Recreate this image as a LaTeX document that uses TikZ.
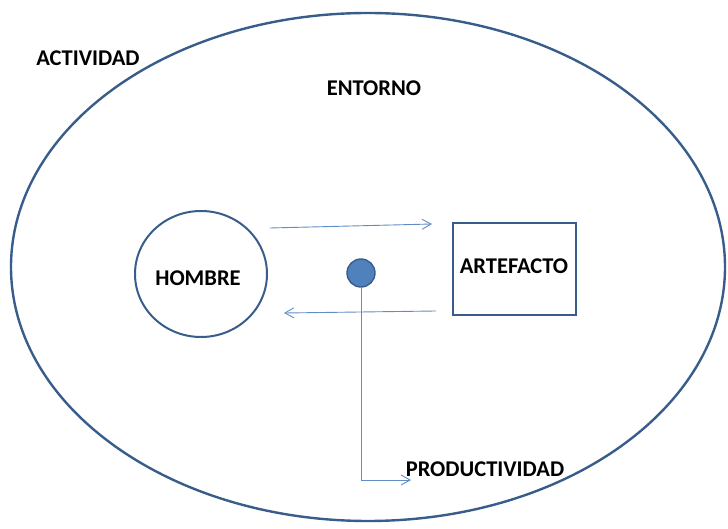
\documentclass[tikz,border=0pt]{standalone}
\usepackage{fontspec}
\setmainfont{Carlito}
\usetikzlibrary{shapes.geometric,arrows.meta}
\definecolor{rimblue}{RGB}{56,93,138}
\definecolor{flowblue}{RGB}{98,140,196}
\definecolor{dotblue}{RGB}{79,129,189}

\begin{document}
\begin{tikzpicture}[x=1pt,y=-1pt,>={Straight Barb[length=9pt,width=10pt]}]
\tikzset{
  rim/.style={draw=rimblue,line width=2.2pt,inner sep=0pt},
  lab/.style={font=\fontsize{22.5}{26}\selectfont\bfseries,align=center,inner sep=0pt},
  arr/.style={->,draw=flowblue,line width=.9pt}
}
\useasboundingbox (0,0) rectangle (728,529);
\node[rim,ellipse,line width=2.4pt,minimum width=714pt,minimum height=508pt] (act) at (368,267) {};
\node[rim,ellipse,line width=2pt,minimum width=132pt,minimum height=126pt] (hombre) at (201,274) {};
\node[rim,rectangle,line width=2pt,minimum width=123pt,minimum height=92pt] (arte) at (514.5,269) {};
\node[circle,draw=rimblue,fill=dotblue,line width=1.4pt,minimum size=28pt,inner sep=0pt] (dot) at (361,273) {};
\node[lab] (actlab) at (88,58) {ACTIVIDAD};
\node[lab] (entlab) at (374,88) {ENTORNO};
\node[lab] (homlab) at (198,278) {HOMBRE};
\node[lab] (artlab) at (514,266) {ARTEFACTO};
\node[lab] (prodlab) at (485,469) {PRODUCTIVIDAD};
% ends of the two flows between man and artefact
\coordinate (goA) at (270,228);
\coordinate (goB) at (432,224);
\coordinate (backA) at (436,311);
\coordinate (backB) at (284,313);
\coordinate (prodend) at (411,480);
\draw[arr] (goA) -- (goB);
\draw[arr] (backA) -- (backB);
\draw[arr] (dot.south) |- (prodend);
\end{tikzpicture}
\end{document}
